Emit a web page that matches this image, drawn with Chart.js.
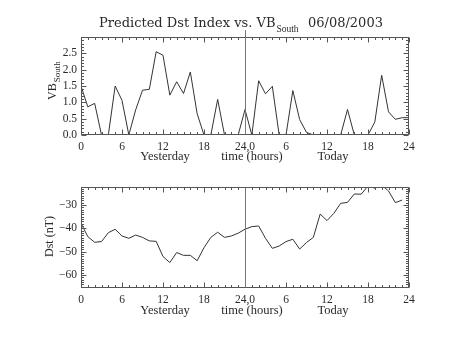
<!DOCTYPE html>
<html>
<head>
<meta charset="utf-8">
<script src="https://cdn.jsdelivr.net/npm/chart.js@4.4.1/dist/chart.umd.min.js"></script>
<style>
    body { margin: 0; background: #fff; }
    #wrap { position: relative; width: 453px; height: 340px; }
    .box { position: absolute; left: 0; width: 453px; height: 170px; }
</style>
</head>
<body>
<div id="wrap">
    <div class="box" style="top:0"><canvas id="vbChart"></canvas></div>
    <div class="box" style="top:170px"><canvas id="dstChart"></canvas></div>
</div>
<script>
// hours since 00:00 yesterday
const hours = [0, 1, 2, 3, 4, 5, 6, 7, 8, 9, 10, 11, 12, 13, 14, 15, 16, 17, 18, 19, 20, 21, 22, 23,
    24, 25, 26, 27, 28, 29, 30, 31, 32, 33, 34, 35, 36, 37, 38, 39, 40, 41, 42, 43, 44, 45, 46, 47, 48];

const vbSouth = [1.5, 0.86, 0.97, 0, 0, 1.5, 1.06, 0, 0.77, 1.37, 1.4, 2.55, 2.44, 1.22, 1.63, 1.27,
    1.93, 0.65, 0, 0, 1.09, 0, 0, 0, 0.78, 0, 1.66, 1.26, 1.49, 0, 0, 1.36,
    0.47, 0.08, 0, 0, 0, 0, 0, 0.78, 0, 0, 0, 0.4, 1.83, 0.71, 0.48, 0.53, 0.53];

const dst = [-37.9, -43.6, -46, -45.7, -41.9, -40.4, -43.3, -44.3, -42.9, -43.9, -45.4, -45.6,
    -52.1, -54.7, -50.4, -51.6, -51.6, -53.9, -48.3, -43.9, -41.7, -43.9, -43.3, -42.1,
    -40.4, -39.3, -39, -44.3, -48.6, -47.6, -45.7, -44.7, -48.9, -46.1, -43.9, -33.9,
    -36.7, -33.6, -29.3, -28.9, -25.3, -25.4, -21.9, -22.8, -21.5, -24, -29, -27.9];

const xTickValues = [0, 6, 12, 18, 24, 30, 36, 42, 48];
const xTickLabels = ['0', '6', '12', '18', '24,0', '6', '12', '18', '24'];
const vbTickValues = [0, 0.5, 1, 1.5, 2, 2.5];
const vbTickLabels = ['0.0', '0.5', '1.0', '1.5', '2.0', '2.5'];
const dstTickValues = [-60, -50, -40, -30];
const dstTickLabels = ['\u221260', '\u221250', '\u221240', '\u221230'];
const dayLabels = ['Yesterday', 'time (hours)', 'Today'];

const serif = 'Liberation Serif';
const ink = '#2a2a2a';

const framePlugin = {
    id: 'frame',
    afterDatasetsDraw(chart, args, opts) {
        const ctx = chart.ctx;
        const a = chart.chartArea;
        const x = chart.scales.x, y = chart.scales.y;
        ctx.save();
        ctx.strokeStyle = '#555';
        ctx.lineWidth = 1;
        const L = Math.round(a.left) + 0.5, R = Math.round(a.right) - 0.5;
        const T = Math.round(a.top) + 0.5, B = Math.round(a.bottom) - 0.5;
        ctx.strokeRect(L, T, R - L, B - T);

        ctx.beginPath();
        // hour ticks on bottom and top
        for (let h = 0; h <= 48; h++) {
            const px = Math.round(x.getPixelForValue(h)) + 0.5;
            const len = h % 6 === 0 ? 5 : 2.5;
            ctx.moveTo(px, B); ctx.lineTo(px, B - len);
            ctx.moveTo(px, T); ctx.lineTo(px, T + len);
        }
        // value ticks on left and right
        const n0 = Math.ceil(y.min / opts.minor - 1e-6), n1 = Math.floor(y.max / opts.minor + 1e-6);
        for (let k = n0; k <= n1; k++) {
            const v = k * opts.minor;
            const py = Math.round(y.getPixelForValue(v)) + 0.5;
            const major = Math.abs(v / opts.major - Math.round(v / opts.major)) < 1e-6;
            const len = major ? 5 : 2.5;
            ctx.moveTo(L, py); ctx.lineTo(L + len, py);
            ctx.moveTo(R, py); ctx.lineTo(R - len, py);
        }
        ctx.stroke();

        // day boundary
        ctx.strokeStyle = '#777';
        ctx.beginPath();
        const mx = Math.round(x.getPixelForValue(24)) + 0.5;
        ctx.moveTo(mx, opts.lineTop !== undefined ? opts.lineTop : T);
        ctx.lineTo(mx, B);
        ctx.stroke();

        // labels under the axis
        ctx.fillStyle = ink;
        ctx.font = '12.5px "' + serif + '"';
        ctx.textAlign = 'center';
        ctx.textBaseline = 'middle';
        const dy = a.bottom + opts.subOffset;
        ctx.fillText(dayLabels[0], 165, dy);
        ctx.fillText(dayLabels[1], 252, dy);
        ctx.fillText(dayLabels[2], 333, dy);

        // y axis title
        ctx.save();
        ctx.translate(opts.yTitleX, opts.yTitleY);
        ctx.rotate(-Math.PI / 2);
        ctx.textAlign = 'left';
        ctx.textBaseline = 'alphabetic';
        ctx.font = '12px "' + serif + '"';
        ctx.fillText(opts.yTitle, 0, 0);
        if (opts.ySub) {
            const w = ctx.measureText(opts.yTitle).width;
            ctx.font = '9px "' + serif + '"';
            ctx.fillText(opts.ySub, w + 1, 3.5);
        }
        ctx.restore();

        // main title
        if (opts.title) {
            ctx.textAlign = 'left';
            ctx.textBaseline = 'alphabetic';
            ctx.font = '13px "DejaVu Serif"';
            ctx.fillText('Predicted Dst Index vs. VB', 99, 27);
            const w = ctx.measureText('Predicted Dst Index vs. VB').width;
            ctx.font = '9.5px "' + serif + '"';
            ctx.fillText('South', 99 + w + 1, 32);
            ctx.font = '13px "DejaVu Serif"';
            ctx.fillText('06/08/2003', 308, 27);
        }
        ctx.restore();
    }
};

function axes(yMin, yMax, yVals, yLabels, xHeight) {
    const tickFont = { family: serif, size: 11.5 };
    return {
        x: {
            type: 'linear', min: 0, max: 48,
            afterBuildTicks: s => { s.ticks = xTickValues.map(v => ({ value: v })); },
            afterFit: s => { s.height = xHeight; },
            grid: { display: false, drawTicks: false },
            border: { display: false },
            ticks: {
                padding: 5, color: ink, font: tickFont, maxRotation: 0, autoSkip: false,
                callback: v => xTickLabels[xTickValues.indexOf(v)]
            }
        },
        y: {
            type: 'linear', min: yMin, max: yMax,
            afterBuildTicks: s => { s.ticks = yVals.map(v => ({ value: v })); },
            afterFit: s => { s.width = 81; },
            grid: { display: false, drawTicks: false },
            border: { display: false },
            ticks: {
                padding: 4, color: ink, font: tickFont, autoSkip: false,
                callback: v => yLabels[yVals.indexOf(v)]
            }
        }
    };
}

const lineStyle = { borderColor: '#333', borderWidth: 1, pointRadius: 0, tension: 0, fill: false };

new Chart(document.getElementById('vbChart'), {
    type: 'line',
    plugins: [framePlugin],
    data: {
        datasets: [Object.assign({ data: vbSouth.map((v, i) => ({ x: hours[i], y: v })) }, lineStyle)]
    },
    options: {
        responsive: true, maintainAspectRatio: false, animation: false,
        layout: { padding: { top: 37, right: 44, left: 0, bottom: 0 } },
        plugins: {
            legend: { display: false }, tooltip: { enabled: false },
            frame: { minor: 0.1, major: 0.5, subOffset: 22, yTitle: 'VB', ySub: 'South', yTitleX: 56, yTitleY: 100, title: true, lineTop: 30 }
        },
        scales: axes(0, 3.0, vbTickValues, vbTickLabels, 35)
    }
});

new Chart(document.getElementById('dstChart'), {
    type: 'line',
    plugins: [framePlugin],
    data: {
        datasets: [Object.assign({ data: dst.map((v, i) => ({ x: hours[i], y: v })) }, lineStyle)]
    },
    options: {
        responsive: true, maintainAspectRatio: false, animation: false,
        layout: { padding: { top: 17, right: 44, left: 0, bottom: 0 } },
        plugins: {
            legend: { display: false }, tooltip: { enabled: false },
            frame: { minor: 1, major: 10, subOffset: 23, yTitle: 'Dst (nT)', yTitleX: 53, yTitleY: 87 }
        },
        scales: axes(-65.6, -22.3, dstTickValues, dstTickLabels, 52)
    }
});
</script>
</body>
</html>
